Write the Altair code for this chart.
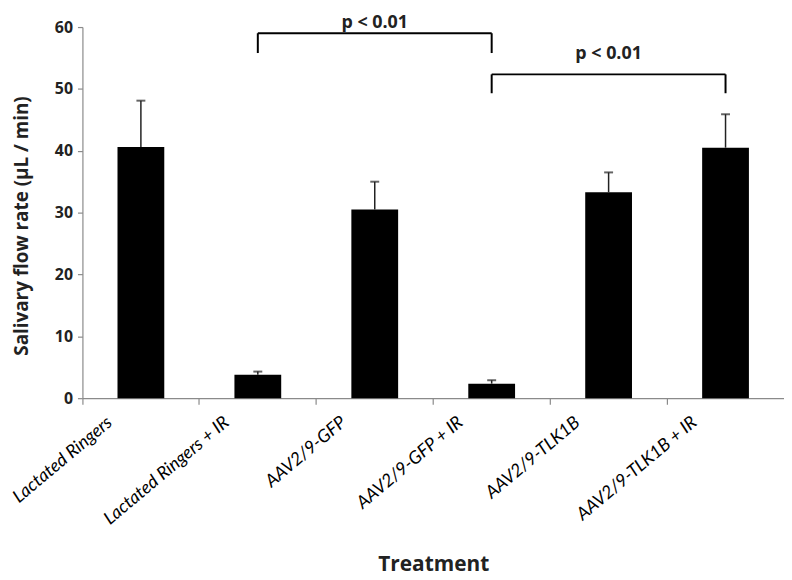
import altair as alt
import pandas as pd

categories = ["Lactated Ringers", "Lactated Ringers + IR", "AAV2/9-GFP",
              "AAV2/9-GFP + IR", "AAV2/9-TLK1B", "AAV2/9-TLK1B + IR"]
means = [40.6, 3.8, 30.5, 2.35, 33.3, 40.5]
upper = [48.1, 4.3, 35.0, 2.9, 36.5, 45.9]

bracket_from = ["Lactated Ringers + IR", "AAV2/9-GFP + IR"]
bracket_to = ["AAV2/9-GFP + IR", "AAV2/9-TLK1B + IR"]
bracket_top = [59.0, 52.35]
bracket_bottom = [55.8, 49.3]
p_labels = ["p < 0.01", "p < 0.01"]
p_label_at = ["AAV2/9-GFP", "AAV2/9-TLK1B"]
p_label_y = [60.7, 55.7]

FONT = "Open Sans"
LABEL_FONT = "Lato"

bars_df = pd.DataFrame({"cat": categories, "mean": means, "upper": upper})
br_df = pd.DataFrame({"a": bracket_from, "b": bracket_to,
                      "top": bracket_top, "bottom": bracket_bottom})
legs_df = pd.DataFrame({
    "cat": bracket_from + bracket_to,
    "top": bracket_top + bracket_top,
    "bottom": bracket_bottom + bracket_bottom,
})
txt_df = pd.DataFrame({"cat": p_label_at, "y": p_label_y, "t": p_labels})

xscale = alt.Scale(domain=categories, paddingInner=0, paddingOuter=0)
yscale = alt.Scale(domain=[0, 60], nice=False)

xaxis = alt.Axis(
    title="Treatment", bandPosition=0, labelOffset=-31, labelAngle=-40,
    labelAlign="right", labelBaseline="middle", labelFont=LABEL_FONT,
    labelFontStyle="italic", labelFontSize=18, labelColor="black",
    labelPadding=16, labelLimit=300, tickSize=6, tickColor="#8a8a8a",
    domainColor="#8a8a8a", tickWidth=1.2, domainWidth=1.2,
    titleFont=FONT, titleFontSize=21, titleFontWeight="bold",
    titleColor="#222", titleY=168, titleBaseline="middle",
)
yaxis = alt.Axis(
    title="Salivary flow rate (µL / min)", values=[0, 10, 20, 30, 40, 50, 60],
    grid=False, tickSize=5, tickColor="#8a8a8a", domainColor="#8a8a8a",
    tickWidth=1.2, domainWidth=1.2,
    labelFont=FONT, labelFontSize=16, labelFontWeight="bold", labelColor="#222",
    labelPadding=5, titleFont=FONT, titleFontSize=19, titleFontWeight="bold",
    titleColor="#222", titleX=-61, titleY=200, titleBaseline="middle",
)

base = alt.Chart(bars_df)

bars = base.mark_bar(color="black", width={"band": 0.4}).encode(
    x=alt.X("cat:N", scale=xscale, axis=xaxis, sort=categories),
    y=alt.Y("mean:Q", scale=yscale, axis=yaxis),
)
err = base.mark_rule(color="#222", strokeWidth=1.5).encode(
    x=alt.X("cat:N", sort=categories), y="mean:Q", y2="upper:Q"
)
cap = base.mark_tick(color="#222", size=9, thickness=2).encode(
    x=alt.X("cat:N", sort=categories), y="upper:Q"
)

hline = alt.Chart(br_df).mark_rule(color="black", strokeWidth=2).encode(
    x=alt.X("a:N", sort=categories), x2="b:N", y="top:Q"
)
legs = alt.Chart(legs_df).mark_rule(color="black", strokeWidth=2).encode(
    x=alt.X("cat:N", sort=categories), y="top:Q", y2="bottom:Q"
)
ptext = alt.Chart(txt_df).mark_text(
    font=FONT, fontSize=18, fontWeight="bold", color="#222"
).encode(x=alt.X("cat:N", sort=categories), y="y:Q", text="t:N")

chart = alt.layer(bars, err, cap, hline, legs, ptext).properties(
    width=707, height=374,
    padding={"left": 75, "top": 17, "right": 0, "bottom": 178},
    autosize=alt.AutoSizeParams(type="none"),
).configure_view(stroke=None)

chart.save("out.html", embed_options={"renderer": "svg", "actions": False})
